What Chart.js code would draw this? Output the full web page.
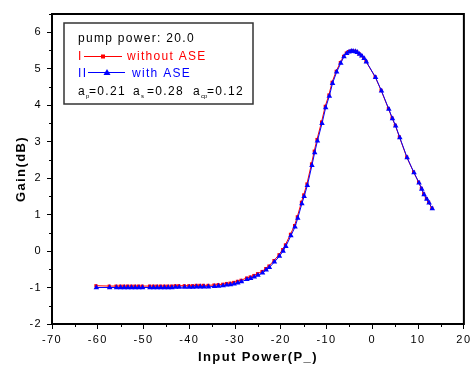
<!DOCTYPE html>
<html><head><meta charset="utf-8">
<script src="https://cdn.jsdelivr.net/npm/chart.js@4"></script>
<style>html,body{margin:0;padding:0;background:#fff}#wrap{width:474px;height:367px}</style>
</head><body><div id="wrap"><canvas id="c" width="474" height="367"></canvas></div>
<script>
const xTickValues = [-70,-60,-50,-40,-30,-20,-10,0,10,20];
const yTickValues = [-2,-1,0,1,2,3,4,5,6];

const blueX = [-60.3,-57.4,-55.9,-55.0,-54.2,-53.4,-52.6,-51.8,-51.0,-50.2,-48.6,-47.8,-47.0,-46.2,-45.4,-44.6,-43.8,-43.0,-42.2,-41.0,-40.0,-39.2,-38.4,-37.6,-36.8,-35.8,-34.5,-33.6,-32.6,-31.8,-31.0,-30.2,-29.4,-28.6,-27.4,-26.6,-25.8,-25.0,-24.0,-23.2,-22.5,-21.4,-20.3,-19.5,-18.9,-17.8,-16.9,-16.3,-15.4,-14.9,-14.2,-13.2,-12.6,-12.0,-11.0,-10.2,-9.4,-8.7,-7.8,-6.9,-6.2,-5.6,-5.1,-4.6,-4.2,-3.7,-3.3,-2.8,-2.3,-1.8,-1.3,0.7,2.0,3.6,4.4,5.1,6.0,7.6,9.1,10.2,10.8,11.3,11.9,12.4,13.1];
const blueY = [-1.0,-1.0,-1.0,-1.0,-1.0,-1.0,-1.0,-1.0,-1.0,-1.0,-1.0,-1.0,-1.0,-1.0,-1.0,-1.0,-1.0,-0.99,-0.99,-0.99,-0.99,-0.99,-0.98,-0.98,-0.98,-0.98,-0.97,-0.96,-0.95,-0.93,-0.92,-0.9,-0.87,-0.84,-0.78,-0.75,-0.71,-0.66,-0.6,-0.52,-0.45,-0.3,-0.14,0.0,0.13,0.42,0.66,0.9,1.3,1.5,1.8,2.35,2.7,3.02,3.5,3.93,4.25,4.6,4.91,5.15,5.33,5.42,5.46,5.48,5.48,5.47,5.45,5.4,5.35,5.28,5.19,4.76,4.39,3.89,3.63,3.43,3.11,2.56,2.15,1.87,1.7,1.55,1.42,1.32,1.16];

const redX = [-60.4,-57.5,-56.0,-55.1,-54.3,-53.5,-52.7,-51.9,-51.1,-50.3,-48.7,-47.9,-47.1,-46.3,-45.5,-44.7,-43.9,-43.1,-42.3,-41.1,-40.1,-39.3,-38.5,-37.7,-36.9,-35.9,-34.6,-33.7,-32.7,-31.9,-31.1,-30.3,-29.5,-28.7,-27.5,-26.7,-25.9,-25.1,-24.1,-23.3,-22.6,-21.5,-20.4,-19.6,-19.0,-17.9,-17.0,-16.4,-15.5,-15.0,-14.3,-13.3,-12.7,-12.1,-11.1,-10.3,-9.5,-8.8,-7.9,-7.0,-6.3,-5.7,-5.2,-4.7,-4.3,-3.8,-3.4,-2.9,-2.4,-1.9,-1.4,0.6,1.9,3.5,4.3,5.0,5.9,7.5,9.0,10.1,10.7,11.2,11.8,12.3,13.0];
const redY = [-0.95,-0.96,-0.96,-0.96,-0.96,-0.96,-0.96,-0.96,-0.96,-0.96,-0.96,-0.96,-0.96,-0.96,-0.96,-0.96,-0.96,-0.95,-0.95,-0.95,-0.95,-0.95,-0.94,-0.94,-0.94,-0.94,-0.93,-0.92,-0.91,-0.89,-0.88,-0.86,-0.83,-0.8,-0.74,-0.71,-0.67,-0.62,-0.56,-0.48,-0.41,-0.26,-0.1,0.04,0.17,0.46,0.7,0.94,1.34,1.54,1.84,2.39,2.74,3.06,3.54,3.97,4.28,4.63,4.93,5.17,5.34,5.43,5.47,5.49,5.49,5.48,5.46,5.41,5.36,5.29,5.2,4.78,4.41,3.91,3.65,3.45,3.13,2.58,2.17,1.89,1.72,1.57,1.44,1.34,1.18];

const bluePts = blueX.map((x,i)=>({x, y: blueY[i]}));
const redPts = redX.map((x,i)=>({x, y: redY[i]}));

const FONT = "'Liberation Sans', Arial, sans-serif";

const spacingPlugin = {
  id: 'spacing',
  beforeDraw(chart) { chart.ctx.letterSpacing = '1.4px'; }
};

const framePlugin = {
  id: 'frame',
  afterDraw(chart) {
    const {ctx, chartArea: a, scales} = chart;
    ctx.save();
    ctx.letterSpacing = '1.3px';
    ctx.strokeStyle = '#000';
    ctx.lineWidth = 2;
    ctx.strokeRect(a.left, a.top, a.right - a.left, a.bottom - a.top);
    // minor ticks
    ctx.lineWidth = 1;
    ctx.beginPath();
    for (let v = -65; v < 20; v += 10) {
      const px = Math.round(scales.x.getPixelForValue(v)) + 0.5;
      ctx.moveTo(px, a.bottom); ctx.lineTo(px, a.bottom + 3);
    }
    for (let v = -1.5; v < 6.6; v += 1) {
      const py = Math.round(scales.y.getPixelForValue(v)) + 0.5;
      ctx.moveTo(a.left, py); ctx.lineTo(a.left - 3, py);
    }
    ctx.stroke();

    // legend box
    const bx = 64, by = 23, bw = 189, bh = 81;
    ctx.strokeStyle = '#333';
    ctx.lineWidth = 1.5;
    ctx.fillStyle = '#fff';
    ctx.fillRect(bx, by, bw, bh);
    ctx.strokeRect(bx, by, bw, bh);
    ctx.font = '12px ' + FONT;
    ctx.textBaseline = 'alphabetic';
    ctx.textAlign = 'left';
    ctx.fillStyle = '#000';
    ctx.fillText('pump power: 20.0', 78, 41.5);
    // red line
    ctx.fillStyle = '#ff0000';
    ctx.strokeStyle = '#ff0000';
    ctx.fillText('I', 78, 60);
    ctx.lineWidth = 1;
    ctx.beginPath(); ctx.moveTo(84, 56.5); ctx.lineTo(122, 56.5); ctx.stroke();
    ctx.fillRect(101, 54.5, 4, 4);
    ctx.fillText('without ASE', 127, 60);
    // blue line
    ctx.fillStyle = '#0000ff';
    ctx.strokeStyle = '#0000ff';
    ctx.fillText('II', 78, 76.5);
    ctx.beginPath(); ctx.moveTo(88, 72.5); ctx.lineTo(125, 72.5); ctx.stroke();
    ctx.beginPath(); ctx.moveTo(107, 69); ctx.lineTo(110.5, 75); ctx.lineTo(103.5, 75); ctx.closePath(); ctx.fill();
    ctx.fillText('with ASE', 132, 76.5);
    // coefficients
    ctx.fillStyle = '#000';
    const base = 95;
    const parts = [['a','p','=0.21',78,89],['a','s','=0.28',133,147],['a','cp','=0.12',193,207]];
    parts.forEach(([a, s, v, x, xv]) => {
      ctx.font = '12px ' + FONT;
      ctx.fillText(a, x, base);
      const w = ctx.measureText(a).width;
      ctx.font = '6px ' + FONT;
      ctx.letterSpacing = '0px';
      ctx.fillText(s, x + w, base + 3);
      ctx.letterSpacing = '1.3px';
      ctx.font = '12px ' + FONT;
      ctx.fillText(v, xv, base);
    });
    ctx.restore();
  }
};

new Chart(document.getElementById('c'), {
  type: 'scatter',
  data: {
    datasets: [
      {
        label: 'with ASE',
        data: bluePts,
        showLine: true,
        borderColor: '#0000ff',
        backgroundColor: '#0000ff',
        borderWidth: 1,
        pointStyle: 'triangle',
        pointRadius: 3.2,
        pointBorderWidth: 0
      },
      {
        label: 'without ASE',
        data: redPts,
        showLine: true,
        borderColor: '#ff0000',
        backgroundColor: '#ff0000',
        borderWidth: 1,
        pointStyle: 'rect',
        pointRadius: 2.2,
        pointBorderWidth: 0
      }
    ]
  },
  options: {
    responsive: false,
    animation: false,
    events: [],
    layout: { padding: { top: 14, right: 8, left: 0, bottom: 0 } },
    plugins: { legend: { display: false }, tooltip: { enabled: false } },
    scales: {
      x: {
        type: 'linear',
        min: -70, max: 20,
        afterFit(s) { s.height = 43; },
        afterBuildTicks(s) { s.ticks = xTickValues.map(v => ({value: v})); },
        ticks: { color: '#000', font: { family: FONT, size: 11 }, padding: 4, maxRotation: 0, autoSkip: false },
        grid: { display: true, drawOnChartArea: false, drawTicks: true, tickLength: 5, color: '#000', lineWidth: 1 },
        border: { display: true, color: '#000', width: 2 },
        title: { display: true, text: 'Input Power(P_)', color: '#000', font: { family: FONT, size: 13, weight: 'bold' }, padding: 2 }
      },
      y: {
        type: 'linear',
        min: -2, max: 6.5,
        afterFit(s) { s.width = 52; },
        afterBuildTicks(s) { s.ticks = yTickValues.map(v => ({value: v})); },
        ticks: { color: '#000', font: { family: FONT, size: 11 }, padding: 5, autoSkip: false },
        grid: { display: true, drawOnChartArea: false, drawTicks: true, tickLength: 5, color: '#000', lineWidth: 1 },
        border: { display: true, color: '#000', width: 2 },
        title: { display: true, text: 'Gain(dB)', color: '#000', font: { family: FONT, size: 13, weight: 'bold' }, padding: 14 }
      }
    }
  },
  plugins: [spacingPlugin, framePlugin]
});
</script>
</body></html>
